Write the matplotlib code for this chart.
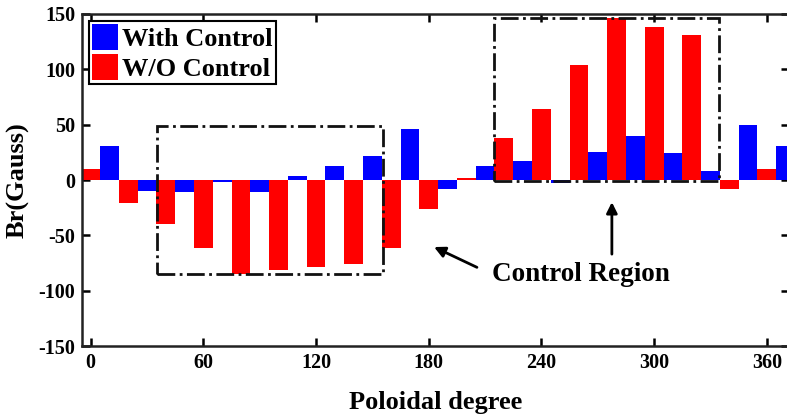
import matplotlib
matplotlib.use("Agg")
import matplotlib.pyplot as plt
from matplotlib.patches import Rectangle, Patch

# Poloidal angles (deg) of each bar group
angles = [0, 20, 40, 60, 80, 100, 120, 140, 160, 180,
          200, 220, 240, 260, 280, 300, 320, 340, 360]
# Radial field Br (Gauss) without control
br_without = [10, -21, -40, -61, -85, -81, -79, -76, -61, -26,
              2, 38, 64, 104, 146, 138, 131, -8, 10]
# Radial field Br (Gauss) with control
br_with = [31, -10, -11, -2, -11, 4, 13, 22, 46, -8,
           13, 17, -3, 25, 40, 24, 8, 50, 31]

x_ticks = [0, 60, 120, 180, 240, 300, 360]
y_ticks = [-150, -100, -50, 0, 50, 100, 150]

plt.rcParams['font.family'] = ['Liberation Serif', 'DejaVu Serif']
plt.rcParams['font.weight'] = 'bold'
plt.rcParams['axes.unicode_minus'] = False

fig = plt.figure(figsize=(7.87, 4.15), dpi=100)
ax = fig.add_axes([82 / 787, 69 / 415, (789 - 82) / 787, (346 - 14) / 415])

bar_w = 10
red_x = [a for a in angles]
blue_x = [a + bar_w for a in angles]
ax.bar(red_x, br_without, width=bar_w, color='#ff0000', linewidth=0, zorder=2)
ax.bar(blue_x, br_with, width=bar_w, color='#0000ff', linewidth=0, zorder=2)

ax.set_xlim(-4.6, 371.8)
ax.set_ylim(-150, 150)
ax.set_xticks(x_ticks)
ax.set_yticks(y_ticks)
ax.tick_params(direction='in', length=6, width=1.8, top=True, right=True,
               labelsize=14.5, pad=5)
for lab in ax.get_xticklabels() + ax.get_yticklabels():
    lab.set_fontweight('bold')
for sp in ax.spines.values():
    sp.set_linewidth(1.8)
    sp.set_color('#222222')

ax.set_xlabel('Poloidal degree', fontsize=19, fontweight='bold', labelpad=13)
ax.set_ylabel('Br(Gauss)', fontsize=19, fontweight='bold', labelpad=6)

# Dash-dot boxes marking the controlled sectors
box_kw = dict(fill=False, edgecolor='#111111', linewidth=2.0,
              linestyle='-.', zorder=3)
ax.add_patch(Rectangle((35.3, -84.8), 155.9 - 35.3, 49 + 84.8, **box_kw))
ax.add_patch(Rectangle((214.5, -0.5), 334.3 - 214.5, 146.5, **box_kw))

# Annotation
ax.annotate('', xy=(181.5, -59.5), xytext=(207, -80),
            arrowprops=dict(arrowstyle='-|>', color='black', lw=2,
                            mutation_scale=16))
ax.annotate('', xy=(277.5, -17.5), xytext=(277.5, -69.5),
            arrowprops=dict(arrowstyle='-|>', color='black', lw=2,
                            mutation_scale=16))
ax.text(213.5, -85, 'Control Region', fontsize=19.5, fontweight='bold',
        ha='left', va='center')

handles = [Patch(facecolor='#0000ff', label='With Control'),
           Patch(facecolor='#ff0000', label='W/O Control')]
leg = ax.legend(handles=handles, loc='upper left',
                prop={'weight': 'bold', 'size': 19},
                handlelength=1.0, handleheight=1.15, handletextpad=0.15,
                borderpad=0.12, labelspacing=0.12, borderaxespad=0.25,
                fancybox=False, framealpha=1, edgecolor='black')
leg.get_frame().set_linewidth(1.5)

fig.savefig('out.png', dpi=100)
